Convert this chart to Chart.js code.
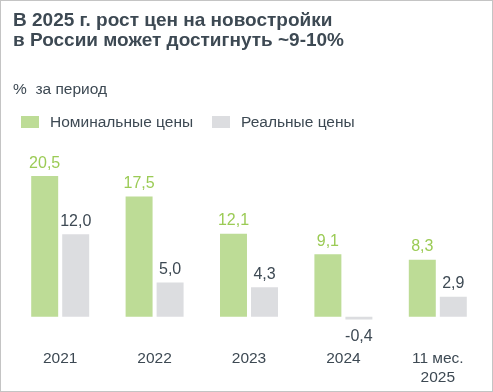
<!DOCTYPE html>
<html lang="ru">
<head>
    <meta charset="UTF-8">
    <title>Рост цен на новостройки</title>
    <script src="https://cdn.jsdelivr.net/npm/chart.js"></script>
    <style>
        body { margin: 0; background: #fff; }
        .wrap {
            position: relative;
            width: 493px;
            height: 392px;
            box-sizing: border-box;
            border: 1px solid #c4c4c4;
            font-family: "Liberation Sans", Arial, sans-serif;
            color: #3d4953;
        }
        .wrap canvas { position: absolute; left: -1px; top: -1px; }
        .title {
            position: absolute; left: 12px; top: 9px;
            font-weight: bold; font-size: 19px; line-height: 20px;
        }
        .subtitle {
            position: absolute; left: 12px; top: 79px;
            font-size: 15.5px; line-height: 18px;
        }
        .legend {
            position: absolute; left: 20px; top: 112px;
            font-size: 15.5px; line-height: 18px;
        }
        .legend span.item { position: absolute; white-space: nowrap; }
        .legend i { position: absolute; top: 3px; width: 18px; height: 12px; }
        .legend b { position: absolute; left: 29px; top: 0; font-weight: normal; }
    </style>
</head>
<body>
    <div class="wrap">
        <canvas id="chart" width="493" height="392"></canvas>
        <div class="title">В 2025 г. рост цен на новостройки<br>в России может достигнуть ~9-10%</div>
        <div class="subtitle">%&nbsp; за период</div>
        <div class="legend" id="legend"></div>
    </div>
    <script>
        // Данные
        const categories = ['2021', '2022', '2023', '2024', ['11 мес.', '2025']];
        const seriesNames = ['Номинальные цены', 'Реальные цены'];
        const nominal = [20.5, 17.5, 12.1, 9.1, 8.3];
        const real = [12.0, 5.0, 4.3, -0.4, 2.9];

        const barColors = ['#bddc96', '#dcdde0'];
        const labelColors = ['#9bcb55', '#3d4953'];
        const textColor = '#3d4953';

        // Легенда
        const legendEl = document.getElementById('legend');
        const legendX = [0, 191];
        seriesNames.forEach((name, i) => {
            const item = document.createElement('span');
            item.className = 'item';
            item.style.left = legendX[i] + 'px';
            item.innerHTML = '<i style="background:' + barColors[i] + '"></i><b>' + name + '</b>';
            legendEl.appendChild(item);
        });

        // Подписи значений
        const valueLabels = {
            id: 'valueLabels',
            afterDatasetsDraw(chart) {
                const ctx = chart.ctx;
                ctx.save();
                ctx.font = '16px "Liberation Sans", Arial, sans-serif';
                ctx.textAlign = 'center';
                ctx.textBaseline = 'alphabetic';
                chart.data.datasets.forEach((ds, di) => {
                    const meta = chart.getDatasetMeta(di);
                    ctx.fillStyle = labelColors[di];
                    meta.data.forEach((bar, i) => {
                        const v = ds.data[i];
                        const txt = v.toFixed(1).replace('.', ',');
                        const y = v >= 0 ? bar.y - 8.5 : bar.y + 22;
                        ctx.fillText(txt, bar.x, y);
                    });
                });
                ctx.restore();
            }
        };

        new Chart(document.getElementById('chart'), {
            type: 'bar',
            data: {
                labels: categories,
                datasets: [{
                    label: seriesNames[0],
                    data: nominal,
                    backgroundColor: barColors[0]
                }, {
                    label: seriesNames[1],
                    data: real,
                    backgroundColor: barColors[1]
                }]
            },
            options: {
                responsive: false,
                animation: false,
                categoryPercentage: 0.657,
                barPercentage: 0.87,
                layout: { padding: { top: 152, left: 13, right: 8, bottom: 0 } },
                plugins: {
                    legend: { display: false },
                    tooltip: { enabled: false }
                },
                scales: {
                    x: {
                        grid: { display: false, drawTicks: false },
                        border: { display: false },
                        ticks: {
                            color: textColor,
                            padding: 5,
                            font: { family: '"Liberation Sans", Arial, sans-serif', size: 15.5, lineHeight: 1.22 }
                        }
                    },
                    y: {
                        display: false,
                        min: -4,
                        max: 24
                    }
                }
            },
            plugins: [valueLabels]
        });
    </script>
</body>
</html>
